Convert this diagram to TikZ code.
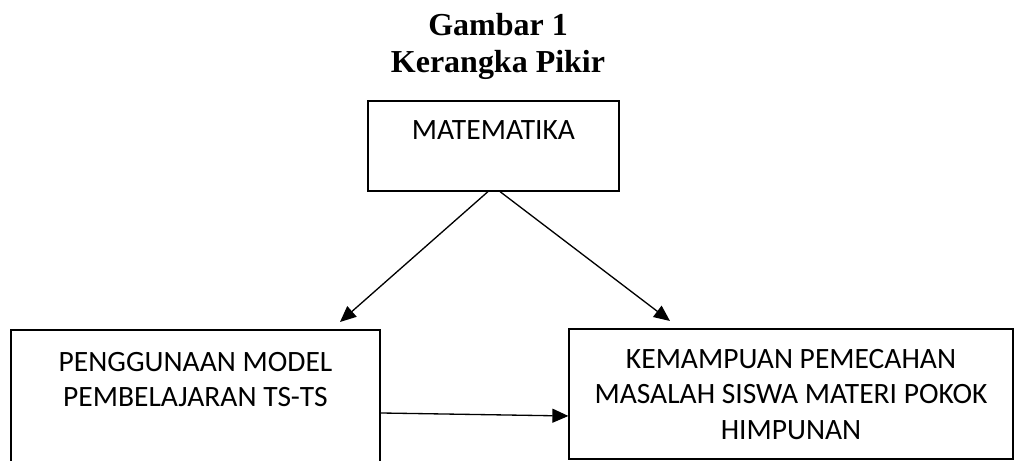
\documentclass[tikz,border=0pt]{standalone}
\usepackage{fontspec}
\setmainfont{Carlito}
\newfontfamily\titlefont{Liberation Serif}
\usepackage{tikz}
\usetikzlibrary{arrows.meta, positioning, calc}
\tikzset{
  >=Triangle,
  flowarrow/.style={-{Triangle[length=0.32cm, width=0.28cm]}, line width=0.75pt, black}
}

\begin{document}
\begin{tikzpicture}[
    box/.style={rectangle, draw=black, line width=0.7pt, inner ysep=0pt, align=center, font=\fontsize{16.8}{20.2}\selectfont},
    titletext/.style={anchor=base, inner sep=0pt, font=\titlefont\bfseries\fontsize{18.2}{21}\selectfont}
]
    \useasboundingbox (0, 0) rectangle (20.28, 9.22);
    \node[titletext] (judul1) at (9.96, 8.5) {Gambar 1};
    \node[titletext] (judul2) at (9.96, 7.76) {Kerangka Pikir};

    \node[box, anchor=base, minimum width=5.02cm, text height=0.78cm, text depth=1.02cm] (mat) at (9.87, 6.42) {MATEMATIKA};
    \node[box, anchor=base, minimum width=7.38cm, text height=1.54cm, text depth=1.38cm] (ts) at (3.91, 1.08) {PENGGUNAAN MODEL\\PEMBELAJARAN TS-TS};
    \node[box, anchor=base, minimum width=8.88cm, text height=2.206cm, text depth=0.394cm] (kmp) at (15.82, 0.434) {KEMAMPUAN PEMECAHAN\\MASALAH SISWA MATERI POKOK\\HIMPUNAN};

    \coordinate (tipts) at (6.8, 2.78);
    \coordinate (tipkmp) at (13.4, 2.8);

    \draw[flowarrow] ([xshift=-0.11cm]mat.south) -- (tipts);
    \draw[flowarrow] ([xshift=0.13cm]mat.south) -- (tipkmp);
    \draw[flowarrow] ([yshift=-0.2cm]ts.east) -- ([yshift=-0.44cm]kmp.west);
\end{tikzpicture}
\end{document}
